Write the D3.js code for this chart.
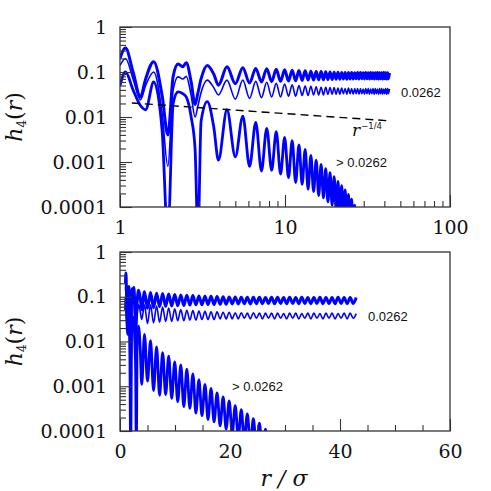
<!DOCTYPE html>
<html>
<head>
<meta charset="utf-8">
<script src="https://cdn.jsdelivr.net/npm/d3@7"></script>
<style>
  body { margin: 0; background: #fff; }
</style>
</head>
<body>
<div id="chart"></div>
<script>

// positions (r/sigma) of the extrema, shared by the three series
const rEarly = [1.00, 1.08, 1.20, 1.33, 1.43, 1.60, 1.80, 1.95, 2.10, 2.25, 2.40, 2.52, 2.70, 2.85, 2.97, 3.10, 3.38, 3.70, 3.95, 4.45]
const rGrid = [5.00, 5.55, 6.10, 6.65, 7.20, 7.75, 8.30, 8.85, 9.40, 9.95, 10.50, 11.05, 11.60, 12.15, 12.70, 13.25, 13.80, 14.35, 14.90, 15.45,
  16.00, 16.55, 17.10, 17.65, 18.20, 18.75, 19.30, 19.85, 20.40, 20.95, 21.50, 22.05, 22.60, 23.15, 23.70, 24.25, 24.80, 25.35, 25.90, 26.45,
  27.00, 27.55, 28.10, 28.65, 29.20, 29.75, 30.30, 30.85, 31.40, 31.95, 32.50, 33.05, 33.60, 34.15, 34.70, 35.25, 35.80, 36.35, 36.90, 37.45,
  38.00, 38.55, 39.10, 39.65, 40.20, 40.75, 41.30, 41.85, 42.40, 42.95]

// h4(r), upper thick curve
const h4Upper = [0.20, 0.34, 0.10, 0.028, 0.07, 0.17, 0.03, 0.004, 0.08, 0.15, 0.13, 0.16, 0.06, 0.019, 0.035, 0.07, 0.14, 0.09, 0.051, 0.13,
  0.055, 0.125, 0.057, 0.12, 0.06, 0.118, 0.061, 0.115, 0.062, 0.112,
  0.063, 0.11, 0.064, 0.108, 0.065, 0.106, 0.066, 0.104, 0.066, 0.103,
  0.067, 0.102, 0.067, 0.101, 0.068, 0.1, 0.068, 0.099, 0.069, 0.099,
  0.069, 0.098, 0.07, 0.097, 0.069, 0.098, 0.07, 0.097, 0.07, 0.096,
  0.071, 0.097, 0.07, 0.097, 0.071, 0.096, 0.07, 0.097, 0.071, 0.096,
  0.07, 0.097, 0.071, 0.096, 0.07, 0.096, 0.071, 0.097, 0.07, 0.096,
  0.071, 0.096, 0.07, 0.097, 0.071, 0.096, 0.07, 0.096, 0.071, 0.096]

// h4(r) at 0.0262, thin curve
const h4Critical = [0.14, 0.20, 0.07, 0.024, 0.05, 0.10, 0.012, 0.0008, 0.04, 0.078, 0.07, 0.08, 0.03, 0.010, 0.018, 0.035, 0.066, 0.045, 0.031, 0.066,
  0.025, 0.066, 0.026, 0.062, 0.027, 0.059, 0.028, 0.056, 0.028, 0.054,
  0.029, 0.052, 0.029, 0.05, 0.03, 0.049, 0.03, 0.048, 0.031, 0.047,
  0.031, 0.046, 0.031, 0.046, 0.032, 0.045, 0.032, 0.045, 0.032, 0.044,
  0.032, 0.044, 0.033, 0.043, 0.032, 0.044, 0.033, 0.043, 0.032, 0.043,
  0.033, 0.043, 0.032, 0.043, 0.033, 0.042, 0.032, 0.043, 0.033, 0.043,
  0.032, 0.042, 0.033, 0.043, 0.032, 0.043, 0.033, 0.042, 0.032, 0.043,
  0.033, 0.043, 0.032, 0.042, 0.033, 0.043, 0.032, 0.043, 0.033, 0.042]

// h4(r) above 0.0262, decaying curve (drops below the axis after r ~ 27)
const h4Decay = [0.05, 0.10, 0.04, 0.018, 0.0145, 0.06, 0.005, 0.00002, 0.02, 0.036, 0.033, 0.028, 0.01, 0.002, 0.00002, 0.008, 0.022, 0.006, 0.0011, 0.0145,
  0.0013, 0.0105, 0.0008, 0.0076, 0.00063, 0.0056, 0.00065, 0.0047, 0.00054, 0.0035,
  0.00045, 0.003, 0.00035, 0.0024, 0.00032, 0.0019, 0.00025, 0.0014, 0.00022, 0.0011,
  0.00018, 0.00089, 0.00016, 0.00071, 0.00013, 0.00058, 0.00011, 0.00047, 0.000089, 0.00037,
  0.00007, 0.0003, 0.00006, 0.00024, 0.00005, 0.00019, 0.00004, 0.00015, 0.00003, 0.00011,
  0.00003, 0.000085, 0.00002]

// r^-1/4 guide line end points
const guideLine = [[1.18, 0.0205], [41.5, 0.0083]]

const yTicks = [0.0001, 0.001, 0.01, 0.1, 1]
const yTickLabels = ["0.0001", "0.001", "0.01", "0.1", "1"]
const xTicksLog = [1, 10, 100]
const xTickLabelsLog = ["1", "10", "100"]
const xTicksLin = [0, 20, 40, 60]
const xTickLabelsLin = ["0", "20", "40", "60"]
const xMinorLin = [5, 10, 15, 25, 30, 35, 45, 50, 55]

var app = {

  settings: {
    width: 491,
    height: 491,
    left: 120,
    right: 450,
    blue: "#0000ff",
    axis: "#333"
  },

  init: () => {

    var r = rEarly.concat(rGrid)

    app.series = [
      { values: h4Upper.map((v, i) => [r[i], v]), width: 3 },
      { values: h4Critical.map((v, i) => [r[i], v]), width: 1.6 },
      { values: h4Decay.map((v, i) => [r[i], v]), width: 2.8 }
    ]

    app.svg = d3.select("#chart").append("svg")
      .attr("width", app.settings.width)
      .attr("height", app.settings.height)
      .style("font-family", "'DejaVu Serif', serif")

    app.drawPanel({
      id: "top", top: 27, bottom: 207,
      x: d3.scaleLog().domain([1, 100]),
      xMajor: xTicksLog, xLabels: xTickLabelsLog,
      xMinor: null, guide: true,
      notes: [
        { text: "0.0262", x: 401, y: 97 },
        { text: "> 0.0262", x: 336, y: 167 }
      ]
    })

    app.drawPanel({
      id: "bottom", top: 252, bottom: 431,
      x: d3.scaleLinear().domain([0, 60]),
      xMajor: xTicksLin, xLabels: xTickLabelsLin,
      xMinor: xMinorLin, guide: false,
      notes: [
        { text: "0.0262", x: 368, y: 321 },
        { text: "> 0.0262", x: 232, y: 391 }
      ]
    })

    // x title
    var xt = app.svg.append("text")
      .attr("x", 284).attr("y", 486)
      .attr("text-anchor", "middle")
      .attr("font-size", 22)
      .attr("fill", "#111")
    xt.append("tspan").attr("font-style", "italic").text("r")
    xt.append("tspan").attr("font-style", "italic").text(" / ")
    xt.append("tspan").attr("font-style", "italic").text("σ")

  },

  drawPanel: (p) => {

    var s = app.settings
    var x = p.x.range([s.left, s.right])
    var y = d3.scaleLog().domain([0.0001, 1]).range([p.bottom, p.top])

    var g = app.svg.append("g")

    g.append("clipPath").attr("id", "clip-" + p.id)
      .append("rect")
      .attr("x", s.left).attr("y", p.top)
      .attr("width", s.right - s.left).attr("height", p.bottom - p.top)

    var line = d3.line()
      .x(d => x(d[0]))
      .y(d => y(d[1]))
      .curve(d3.curveMonotoneX)

    var plot = g.append("g").attr("clip-path", `url(#clip-${p.id})`)

    app.series.forEach(ser => {
      plot.append("path")
        .datum(ser.values)
        .attr("d", line)
        .attr("fill", "none")
        .attr("stroke", s.blue)
        .attr("stroke-width", ser.width)
        .attr("stroke-linejoin", "round")
    })

    if (p.guide) {
      plot.append("path")
        .datum(guideLine)
        .attr("d", d3.line().x(d => x(d[0])).y(d => y(d[1])))
        .attr("fill", "none")
        .attr("stroke", "#000")
        .attr("stroke-width", 1.4)
        .attr("stroke-dasharray", "8,5")

      var lab = g.append("text")
        .attr("x", 352).attr("y", 136)
        .attr("fill", "#111")
      lab.append("tspan").attr("font-style", "italic").attr("font-size", 17).text("r")
      lab.append("tspan").attr("font-family", "'DejaVu Sans', sans-serif")
        .attr("font-size", 8.5).attr("dx", 1).attr("dy", -7).text("\u22121/4")
    }

    // minor ticks
    var yMinor = y.ticks().filter(d => yTicks.indexOf(d) < 0)
    var xMinor = p.xMinor || x.ticks().filter(d => p.xMajor.indexOf(d) < 0)

    var axes = g.append("g")

    axes.append("g").attr("transform", `translate(0,${p.bottom})`)
      .call(d3.axisBottom(x).tickValues(xMinor).tickSize(-6).tickFormat(""))
    axes.append("g").attr("transform", `translate(0,${p.bottom})`)
      .call(d3.axisBottom(x).tickValues(p.xMajor).tickSize(-12).tickPadding(14)
        .tickFormat((d, i) => p.xLabels[i]))

    axes.append("g").attr("transform", `translate(${s.left},0)`)
      .call(d3.axisLeft(y).tickValues(yMinor).tickSize(-6).tickFormat(""))
    axes.append("g").attr("transform", `translate(${s.left},0)`)
      .call(d3.axisLeft(y).tickValues(yTicks).tickSize(-12).tickPadding(13)
        .tickFormat((d, i) => yTickLabels[i]))

    axes.selectAll(".domain").remove()
    axes.selectAll(".tick line").attr("stroke", s.axis).attr("stroke-width", 1.1)
    axes.selectAll(".tick text")
      .attr("font-family", "'DejaVu Serif', serif")
      .attr("font-size", 19)
      .attr("fill", "#111")

    g.append("rect")
      .attr("x", s.left).attr("y", p.top)
      .attr("width", s.right - s.left).attr("height", p.bottom - p.top)
      .attr("fill", "none")
      .attr("stroke", s.axis)
      .attr("stroke-width", 1.3)

    p.notes.forEach(n => {
      g.append("text")
        .attr("x", n.x).attr("y", n.y)
        .attr("font-family", "'Liberation Sans', sans-serif")
        .attr("font-size", 13)
        .attr("fill", "#111")
        .text(n.text)
    })

    // y title
    var yt = g.append("text")
      .attr("transform", `translate(22,${(p.top + p.bottom) / 2}) rotate(-90)`)
      .attr("text-anchor", "middle")
      .attr("font-size", 22)
      .attr("fill", "#111")
    yt.append("tspan").attr("font-style", "italic").text("h")
    yt.append("tspan").attr("font-size", 12).attr("dy", 4).text("4")
    yt.append("tspan").attr("dy", -4).text("(")
    yt.append("tspan").attr("font-style", "italic").text("r")
    yt.append("tspan").text(")")

  }

}

app.init()

</script>
</body>
</html>
